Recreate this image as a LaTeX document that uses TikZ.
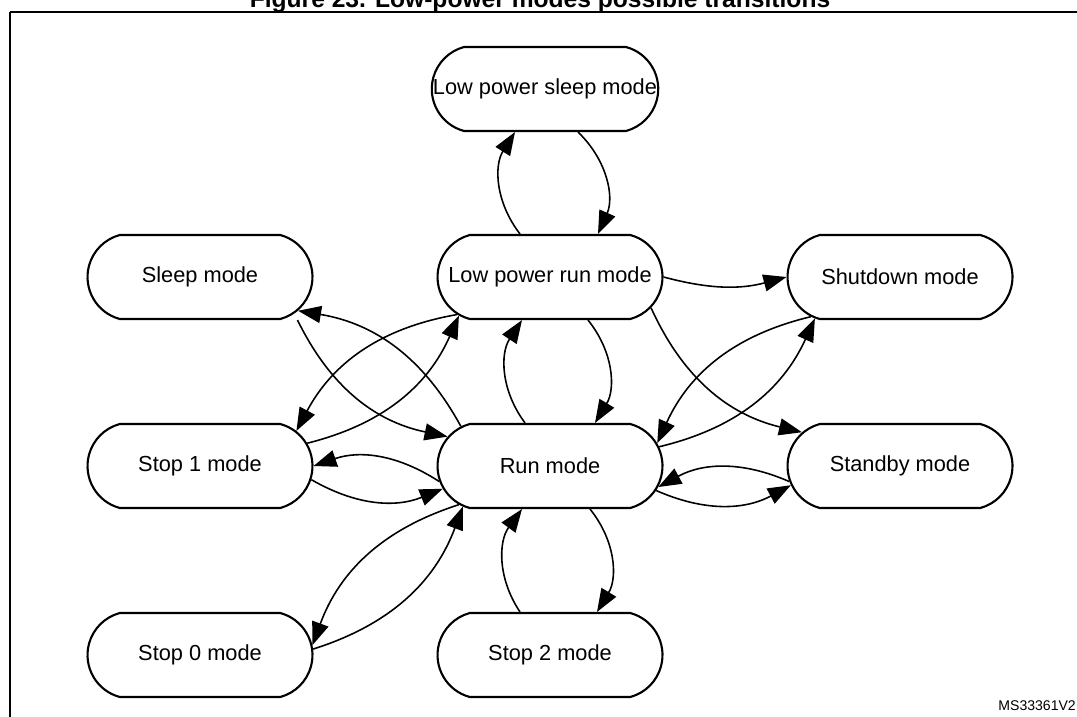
\documentclass[tikz,border=0pt]{standalone}
\usepackage{fontspec}
\setmainfont{Liberation Sans}
\usetikzlibrary{arrows.meta,shapes.misc,positioning}

\begin{document}
\begin{tikzpicture}[x=0.02cm,y=-0.02cm,
  mode/.style={draw,line width=1.2pt,rounded rectangle,rounded rectangle arc length=150,minimum width=4.5cm,minimum height=1.68cm,inner sep=0pt,font=\fontsize{12.4}{15}\selectfont},
  tr/.style={line width=0.9pt,-{Triangle[length=4.6mm,width=3.4mm]}}]
  \useasboundingbox (0,0) rectangle (1077,716);
  \draw[line width=1.2pt] (10,12) -- (10,730) (10,12) -- (1090,12);
  \node[font=\bfseries\fontsize{14}{16}\selectfont] (title) at (540,1) {Figure 23. Low-power modes possible transitions};
  \node[anchor=east,font=\fontsize{8}{9}\selectfont] (ref) at (1082,706) {MS33361V2};
  % modes
  \node[mode] (lps) at (545,89) {Low power sleep mode};
  \node[mode] (sl) at (200,277) {Sleep mode};
  \node[mode] (lpr) at (550,277) {Low power run mode};
  \node[mode] (sd) at (900,277) {Shutdown mode};
  \node[mode] (s1) at (200,466) {Stop 1 mode};
  \node[mode] (run) at (550,466) {Run mode};
  \node[mode] (sb) at (900,466) {Standby mode};
  \node[mode] (s0) at (200,655) {Stop 0 mode};
  \node[mode] (s2) at (550,655) {Stop 2 mode};
  % vertical pairs
  \draw[tr] ([xshift=0.66cm]lps.south) to[bend left=35] ([xshift=0.96cm]lpr.north);
  \draw[tr] ([xshift=-0.6cm]lpr.north) to[bend left=35] ([xshift=-0.6cm]lps.south);
  \draw[tr] ([xshift=-0.5cm]run.north) to[bend left=35] ([xshift=-0.56cm]lpr.south);
  \draw[tr] ([xshift=0.76cm]lpr.south) to[bend left=35] ([xshift=0.9cm]run.north);
  \draw[tr] ([xshift=-0.6cm]s2.north) to[bend left=35] ([xshift=-0.56cm]run.south);
  \draw[tr] ([xshift=0.8cm]run.south) to[bend left=35] ([xshift=0.94cm]s2.north);
  % left side
  \draw[tr] ([xshift=1.95cm]sl.south) to[bend right=26] (run.164);
  \draw[tr] (run.156) to[bend right=26] (sl.-19);
  \draw[tr] (lpr.202) to[bend right=26] (s1.20);
  \draw[tr] (s1.12) to[bend right=26] (lpr.203);
  \draw[tr] (run.188) to[bend right=26] (s1.east);
  \draw[tr] (s1.-7) to[bend right=26] (run.192);
  \draw[tr] (run.203) to[bend right=26] (s0.5);
  \draw[tr] (s0.3) to[bend right=26] (run.205);
  % right side
  \draw[tr] (lpr.east) to[bend right=15] (sd.west);
  \draw[tr] (sd.204) to[bend right=26] (run.12);
  \draw[tr] (run.10) to[bend right=26] (sd.206);
  \draw[tr] (lpr.-17) to[bend right=26] (sb.161);
  \draw[tr] (sb.188) to[bend right=26] (run.-11);
  \draw[tr] (run.-13) to[bend right=26] (sb.190);
\end{tikzpicture}
\end{document}
